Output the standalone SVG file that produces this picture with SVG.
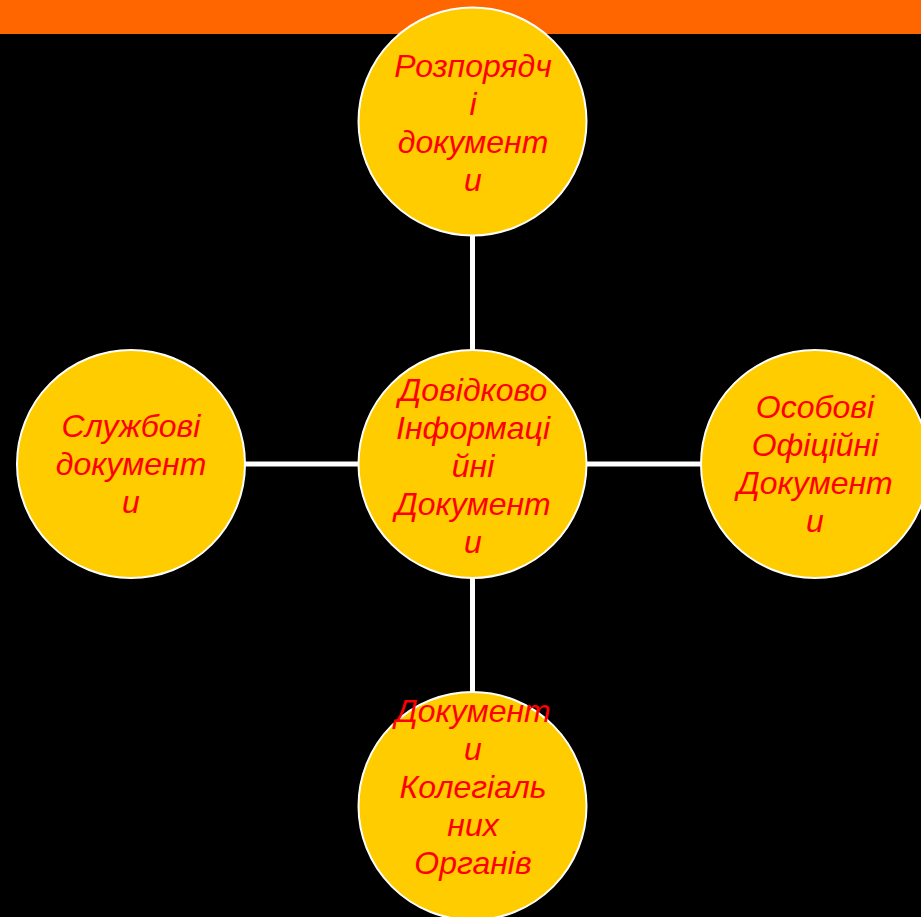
<svg xmlns="http://www.w3.org/2000/svg" width="921" height="917" viewBox="0 0 921 917">
<style>
.bg{fill:#000}
.bar{fill:#FF6600}
.node circle{fill:#FFCC00;stroke:#FFFFFF;stroke-width:2}
.node text{font-family:"Liberation Sans",Arial,sans-serif;font-style:italic;font-size:32px;fill:#FF0000;text-anchor:middle}
.conn line{stroke:#FFFFFF;stroke-width:5}
</style>
<rect class="bg" x="0" y="0" width="921" height="917"/>
<rect class="bar" x="0" y="0" width="921" height="34"/>
<g id="connectors" class="conn">
<line x1="472.5" y1="236" x2="472.5" y2="350"/>
<line x1="472.5" y1="578" x2="472.5" y2="692"/>
<line x1="245" y1="464" x2="358" y2="464"/>
<line x1="587" y1="464" x2="701" y2="464"/>
</g>
<g id="node-top" class="node">
<circle cx="472.5" cy="121.5" r="114"/>
<text x="473" y="77">Розпорядч</text>
<text x="473" y="115">і</text>
<text x="473" y="153">документ</text>
<text x="473" y="191">и</text>
</g>
<g id="node-center" class="node">
<circle cx="472.5" cy="464" r="114"/>
<text x="473" y="401">Довідково</text>
<text x="473" y="439">Інформаці</text>
<text x="473" y="477">йні</text>
<text x="473" y="515">Документ</text>
<text x="473" y="553">и</text>
</g>
<g id="node-left" class="node">
<circle cx="131" cy="464" r="114"/>
<text x="131" y="437">Службові</text>
<text x="131" y="475">документ</text>
<text x="131" y="513">и</text>
</g>
<g id="node-right" class="node">
<circle cx="815" cy="464" r="114"/>
<text x="815" y="418">Особові</text>
<text x="815" y="456">Офіційні</text>
<text x="815" y="494">Документ</text>
<text x="815" y="532">и</text>
</g>
<g id="node-bottom" class="node">
<circle cx="472.5" cy="806" r="114"/>
<text x="473" y="722">Документ</text>
<text x="473" y="760">и</text>
<text x="473" y="798">Колегіаль</text>
<text x="473" y="836">них</text>
<text x="473" y="874">Органів</text>
</g>
</svg>
